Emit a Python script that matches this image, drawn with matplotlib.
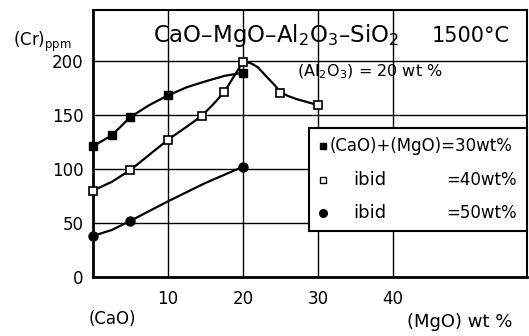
import numpy as np
import matplotlib
matplotlib.use('Agg')
import matplotlib.pyplot as plt
from matplotlib.patches import Rectangle

# valores: (Cr) ppm vs (MgO) wt%
mgo_30 = [0, 2.5, 5, 10, 20]
cr_30 = [121, 131, 148, 168, 189]
mgo_40 = [0, 5, 10, 14.5, 17.5, 20, 25, 30]
cr_40 = [80, 99, 127, 149, 171, 199, 170, 159]
mgo_50 = [0, 5, 20]
cr_50 = [38, 52, 102]

# trazo de las curvas suaves
curva_30_x = [0, 2.5, 5, 7.5, 10, 12.5, 15, 17.5, 20]
curva_30_y = [121, 131, 148, 159, 168, 175.5, 181, 186, 189]
curva_40_x = [0, 2.5, 5, 7.5, 10, 12.5, 14.5, 16, 17.5, 20, 21, 22, 23.2, 24.3, 25, 26, 27.2, 28.5, 30]
curva_40_y = [80, 88, 99, 113, 127, 139, 149, 159.5, 171, 199, 198, 194, 185, 177, 171, 167.5, 164.5, 162, 159]
curva_50_x = [0, 2.5, 5, 10, 15, 20]
curva_50_y = [38, 43.5, 52, 70, 87, 102]

xticks = [10, 20, 30, 40]
yticks = [0, 50, 100, 150, 200]

fig = plt.figure(figsize=(5.29, 3.36), dpi=100)
ax = fig.add_axes([93/529, 59/336, 434/529, 267/336])
ax.set_xlim(0, 57.9)
ax.set_ylim(0, 247)

for v in xticks:
    ax.axvline(v, color='black', lw=1.0, zorder=1)
for v in yticks[1:]:
    ax.axhline(v, color='black', lw=1.0, zorder=1)

ax.plot(curva_30_x, curva_30_y, color='black', lw=1.6, zorder=2)
ax.plot(curva_40_x, curva_40_y, color='black', lw=1.6, zorder=2)
ax.plot(curva_50_x, curva_50_y, color='black', lw=1.6, zorder=2)

ax.plot(mgo_30, cr_30, 's', color='black', ms=5.5, zorder=3, clip_on=False)
ax.plot(mgo_40, cr_40, 's', mfc='white', mec='black', mew=1.2, ms=5.5, zorder=3, clip_on=False)
ax.plot(mgo_50, cr_50, 'o', color='black', ms=6.5, zorder=3, clip_on=False)

ax.set_xticks(xticks)
ax.set_yticks(yticks)
ax.tick_params(length=0, labelsize=12)
ax.tick_params(axis='y', pad=7)
ax.tick_params(axis='x', pad=9)
for lado in ['left', 'bottom']:
    ax.spines[lado].set_linewidth(2.0)
for lado in ['top', 'right']:
    ax.spines[lado].set_linewidth(1.5)

# titulo y anotacion
ax.text(0.138, 0.903, 'CaO–MgO–Al$_2$O$_3$–SiO$_2$', transform=ax.transAxes,
        fontsize=16.5, va='center', ha='left', zorder=4)
ax.text(0.781, 0.903, '1500°C', transform=ax.transAxes,
        fontsize=15, va='center', ha='left', zorder=4)
ax.text(0.470, 0.768, '(Al$_2$O$_3$) = 20 wt %', transform=ax.transAxes,
        fontsize=11.5, va='center', ha='left', zorder=4)

# leyenda dibujada a mano
ax.add_patch(Rectangle((0.498, 0.172), 0.502, 0.386, transform=ax.transAxes,
                       facecolor='white', edgecolor='black', lw=1.5, zorder=5, clip_on=False))
filas = [0.491, 0.363, 0.240]
ax.plot([0.530], [filas[0]], 's', color='black', ms=5, transform=ax.transAxes, zorder=6)
ax.plot([0.530], [filas[1]], 's', mfc='white', mec='black', mew=1.0, ms=5, transform=ax.transAxes, zorder=6)
ax.plot([0.530], [filas[2]], 'o', color='black', ms=5.5, transform=ax.transAxes, zorder=6)
ax.text(0.546, filas[0], '(CaO)+(MgO)=30wt%', transform=ax.transAxes,
        fontsize=12, va='center', ha='left', zorder=6)
for fila, etiqueta in zip(filas[1:], ['=40wt%', '=50wt%']):
    ax.text(0.599, fila, 'ibid', transform=ax.transAxes, fontsize=13,
            va='center', ha='left', zorder=6)
    ax.text(0.977, fila, etiqueta, transform=ax.transAxes, fontsize=12,
            va='center', ha='right', zorder=6)

# etiquetas de ejes
fig.text(13/529, 1 - 42/336, '(Cr)$_{\\mathrm{ppm}}$', fontsize=12, va='center', ha='left')
fig.text(112/529, 1 - 319/336, '(CaO)', fontsize=12, va='center', ha='center')
fig.text(407/529, 1 - 322/336, '(MgO) wt %', fontsize=13, va='center', ha='left')

fig.savefig('out.png', dpi=100)
